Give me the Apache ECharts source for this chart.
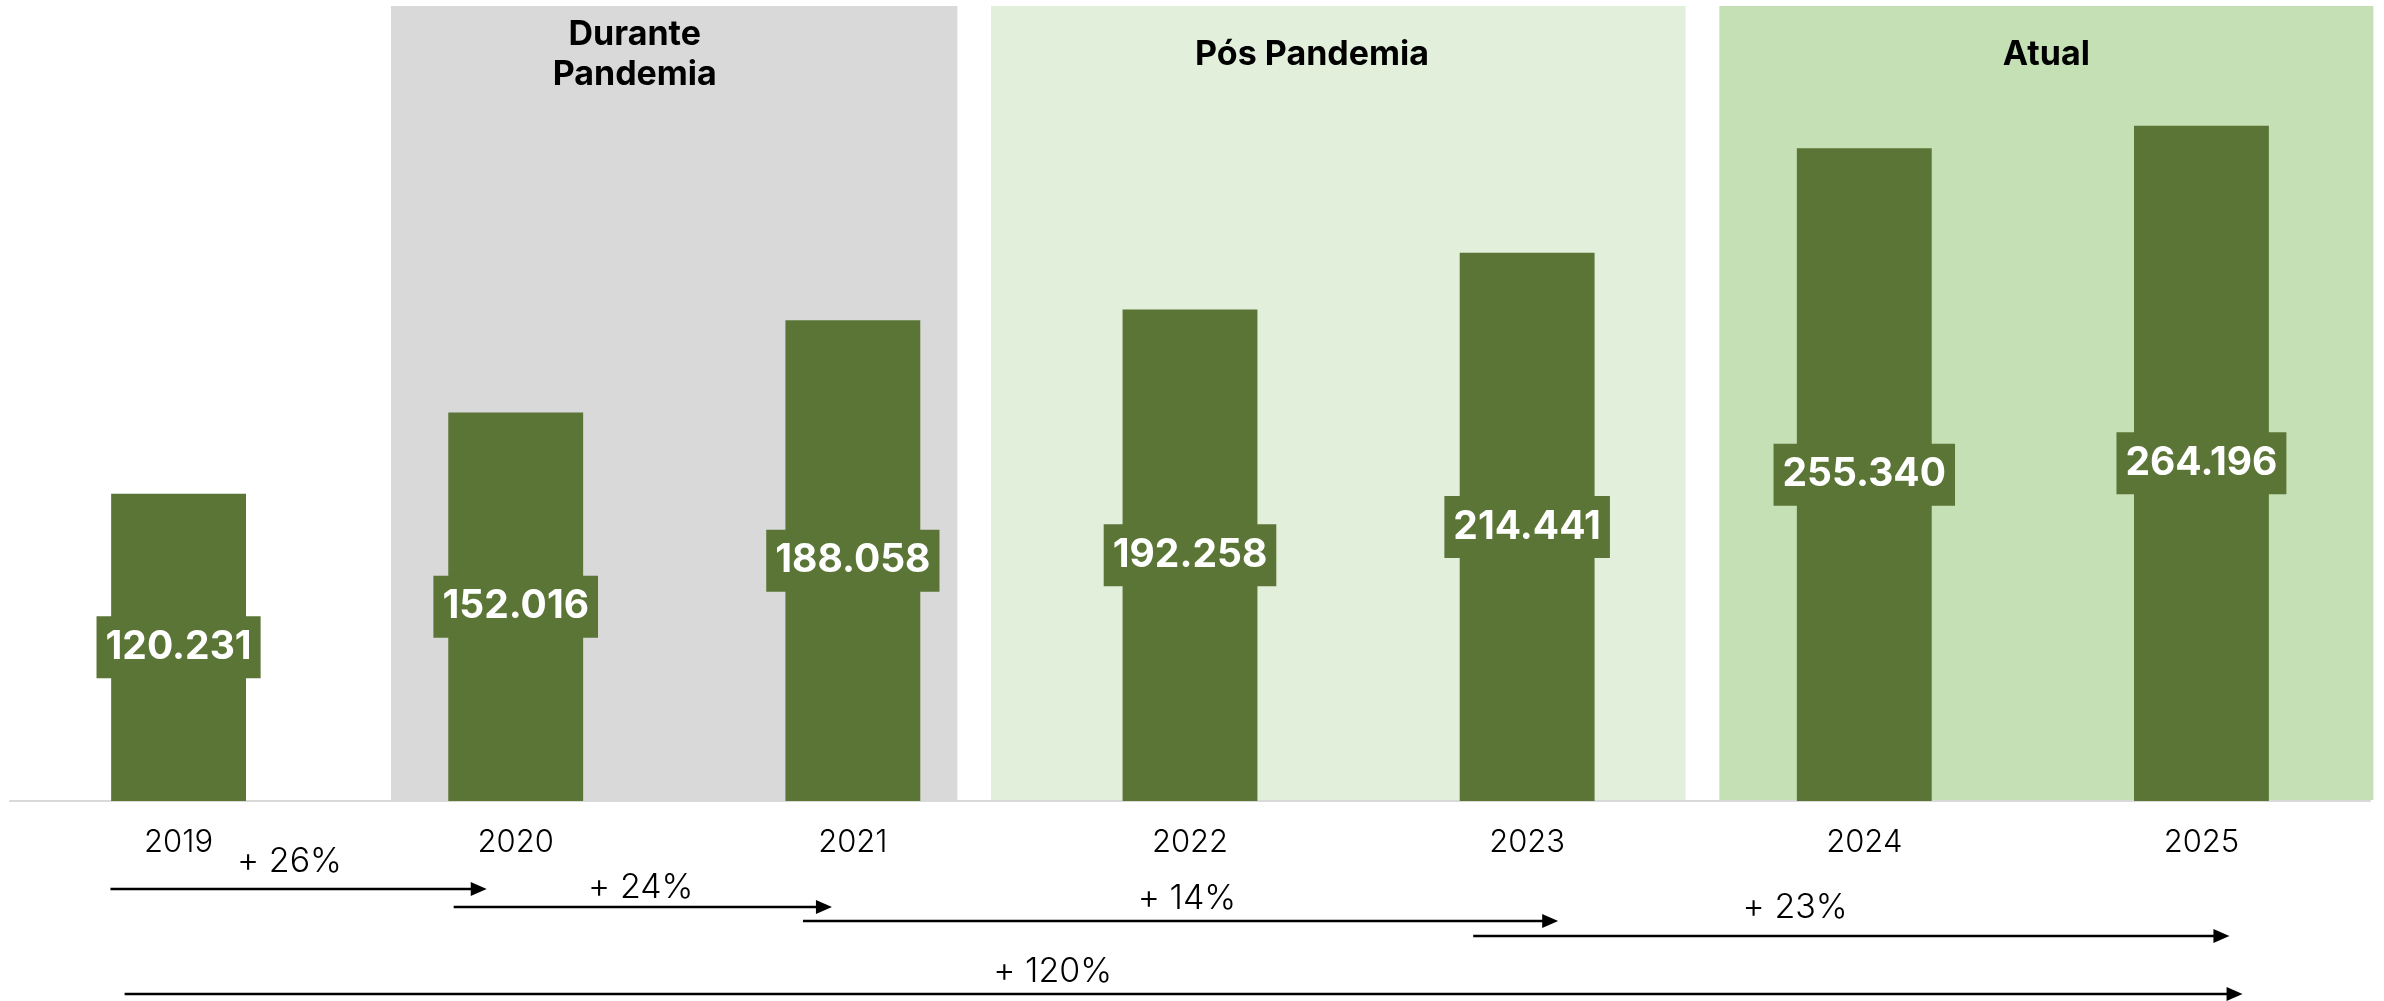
<!DOCTYPE html>
<html>
<head>
<meta charset="utf-8">
<script src="https://cdn.jsdelivr.net/npm/echarts@6/dist/echarts.min.js"></script>
<style>
html,body{margin:0;padding:0;background:#fff;}
#c{width:2384px;height:1001px;}
</style>
</head>
<body>
<div id="c"></div>
<script>
// ---- data ----
const categories = ['2019', '2020', '2021', '2022', '2023', '2024', '2025'];
const values = [120231, 152016, 188058, 192258, 214441, 255340, 264196];
const bandNames = ['Durante\nPandemia', 'Pós Pandemia', 'Atual'];
const growthLabels = ['+ 26%', '+ 24%', '+ 14%', '+ 23%', '+ 120%'];
const growthFrom = [0, 1, 2, 4, 0];
const growthTo = [1, 2, 4, 6, 6];

// ---- layout (category units / pixels) ----
const bandLayout = [ // [start, end, titleCenter] in category units
  [0.63, 2.31, 1.353],
  [2.41, 4.47, 3.362],
  [4.57, 6.51, 5.54]
];
const bandColors = ['#d9d9d9', '#e2efda', '#c5e0b4'];
const arrowLayout = [ // [fromOffset, toOffset, lineY, labelX(units), labelY]
  [-0.202, -0.086, 889, 0.329, 862],
  [-0.184, -0.062, 907, 1.371, 888],
  [-0.148, 0.092, 921, 2.991, 899],
  [-0.160, 0.083, 936, 4.795, 908],
  [-0.160, 0.122, 994, 2.593, 972]
];

const BAR = '#5b7536';
const THIN = 'Inter, Lato, "Open Sans", sans-serif';
const BOLD = 'Inter, Lato, "Open Sans", sans-serif';

const fmt = v => String(v).replace(/\B(?=(\d{3})+(?!\d))/g, '.');

const chart = echarts.init(document.getElementById('c'));
chart.setOption({
  animation: false,
  grid: { left: 10, right: 14, top: 6, bottom: 200 },
  xAxis: {
    type: 'category',
    data: categories,
    axisLine: { lineStyle: { color: '#d9d9d9', width: 2 } },
    axisTick: { show: false },
    axisLabel: { fontSize: 31, color: '#000', fontFamily: THIN, fontWeight: 300, margin: 26 }
  },
  yAxis: { type: 'value', min: 0, max: 311000, show: false, splitLine: { show: false } },
  series: [{
    type: 'bar',
    data: values,
    barWidth: '40%',
    itemStyle: { color: BAR },
    label: {
      show: true,
      position: 'inside',
      formatter: p => fmt(p.value),
      color: '#fff',
      fontSize: 39,
      fontWeight: 'bold',
      fontFamily: BOLD,
      backgroundColor: BAR,
      padding: [9, 9],
      lineHeight: 44
    }
  }]
});

const c0 = chart.convertToPixel({ xAxisIndex: 0 }, categories[0]);
const c1 = chart.convertToPixel({ xAxisIndex: 0 }, categories[1]);
const bw = c1 - c0;
const px = u => c0 + u * bw;
const yTop = chart.convertToPixel({ yAxisIndex: 0 }, 311000);
const yBase = chart.convertToPixel({ yAxisIndex: 0 }, 0);

const elements = [];
bandLayout.forEach((b, i) => {
  elements.push({
    type: 'rect', z: -10, silent: true,
    shape: { x: px(b[0]), y: yTop, width: px(b[1]) - px(b[0]), height: yBase - yTop - 1 },
    style: { fill: bandColors[i] }
  });
  elements.push({
    type: 'text', z: 10, silent: true,
    x: px(b[2]), y: 55,
    style: { text: bandNames[i], fill: '#000', fontSize: 34, fontWeight: 'bold', fontFamily: BOLD,
             align: 'center', verticalAlign: 'middle', lineHeight: 40 }
  });
});
growthLabels.forEach((t, i) => {
  const a = arrowLayout[i];
  const x0 = px(growthFrom[i] + a[0]);
  const x1 = px(growthTo[i] + a[1]);
  const y = a[2];
  elements.push({
    type: 'line', z: 10, silent: true,
    shape: { x1: x0, y1: y, x2: x1 - 8, y2: y },
    style: { stroke: '#000', lineWidth: 2.5 }
  });
  elements.push({
    type: 'polygon', z: 10, silent: true,
    shape: { points: [[x1, y], [x1 - 16, y - 7], [x1 - 16, y + 7]] },
    style: { fill: '#000' }
  });
  elements.push({
    type: 'text', z: 10, silent: true,
    x: px(a[3]), y: a[4],
    style: { text: t, fill: '#000', fontSize: 34, fontWeight: 300, fontFamily: THIN,
             align: 'center', verticalAlign: 'middle' }
  });
});
chart.setOption({ graphic: { elements: elements } });
</script>
</body>
</html>
